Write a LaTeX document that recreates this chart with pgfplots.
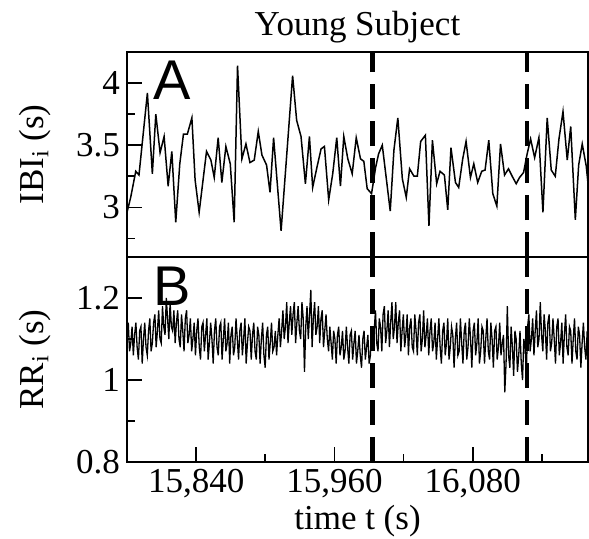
\documentclass[border=0pt]{standalone}
\usepackage{fontspec}
\setmainfont{Liberation Serif}
\newfontfamily\sansf{Liberation Sans}
\usepackage{pgfplots}
\pgfplotsset{compat=1.18}
\usetikzlibrary{calc}

\newcommand{\bigfont}{\fontsize{17.5}{20}\selectfont}
\pgfplotsset{
  panel/.style={
    scale only axis, width=230.5pt, height=102.5pt,
    xmin=15780, xmax=16180, scaled x ticks=false,
    axis line style={line width=0.9pt},
    tick align=inside, ytick pos=left,
    major tick length=7.5pt, minor tick length=4pt,
    every tick/.style={black, line width=0.8pt},
    tick label style={font=\bigfont},
    label style={font=\bigfont},
    /pgf/number format/assume math mode=true,
    ylabel style={at={(axis description cs:-0.2,0.5)}, anchor=center},
  },
  vline/.style={black, line width=2.4pt, dash pattern=on 12.5pt off 6pt},
}

\begin{document}
\begin{tikzpicture}
\begin{axis}[panel, name=top,
    ymin=2.6, ymax=4.25, ytick={3,3.5,4}, minor ytick={2.75,3.25,3.75},
    xtick=\empty,
    ylabel={IBI\textsubscript{i} (s)},
    title={Young Subject}, title style={font=\bigfont, yshift=-5pt}]
% interbreath intervals
\addplot[black, line width=0.75pt] coordinates {
(15780.0,2.96) (15783.2,3.08) (15787.6,3.29) (15790.4,3.26) (15797.7,3.92)
(15802.0,3.27) (15805.0,3.75) (15808.7,3.44) (15812.2,3.57) (15815.7,3.17)
(15818.9,3.45) (15822.3,2.88) (15825.8,3.35) (15829.0,3.59) (15832.4,3.59)
(15836.3,3.72) (15839.1,3.22) (15842.6,2.96) (15849.0,3.45) (15852.8,3.38)
(15855.7,3.24) (15859.1,3.56) (15862.3,3.20) (15865.8,3.49) (15869.6,3.35)
(15873.0,2.88) (15875.9,4.14) (15879.7,3.39) (15883.2,3.51) (15886.7,3.36)
(15890.4,3.38) (15893.9,3.61) (15897.1,3.42) (15901.1,3.34) (15904.1,3.12)
(15907.2,3.56) (15913.7,2.81) (15923.7,4.06) (15927.2,3.70) (15931.0,3.57)
(15934.8,3.19) (15938.3,3.57) (15941.1,3.16) (15945.0,3.33) (15948.4,3.47)
(15951.3,3.49) (15955.0,3.06) (15958.5,3.27) (15962.0,3.56) (15965.2,3.17)
(15968.1,3.57) (15971.6,3.39) (15975.4,3.27) (15978.9,3.56) (15982.6,3.39)
(15985.5,3.37) (15988.4,3.15) (15992.2,3.11) (15995.7,3.32) (15998.3,3.43)
(16001.5,3.50) (16008.4,2.97) (16011.6,3.46) (16015.0,3.72) (16018.9,3.23)
(16022.3,3.08) (16025.2,3.31) (16029.0,3.25) (16031.9,3.25) (16034.8,3.53)
(16038.9,3.58) (16042.0,2.85) (16045.0,3.54) (16048.7,3.19) (16051.6,3.29)
(16055.4,3.26) (16058.3,2.98) (16061.1,3.48) (16065.0,3.20) (16067.8,3.16)
(16071.3,3.39) (16074.2,3.53) (16078.0,3.24) (16080.9,3.35) (16084.3,3.20)
(16087.8,3.29) (16090.7,3.30) (16093.9,3.54) (16097.4,3.11) (16100.9,3.01)
(16104.1,3.51) (16107.6,3.26) (16111.0,3.31) (16114.2,3.25) (16117.7,3.19)
(16120.6,3.24) (16124.1,3.28) (16127.2,3.43) (16130.2,3.55) (16133.7,3.40)
(16137.4,3.56) (16140.9,2.96) (16144.6,3.72) (16148.1,3.30) (16151.6,3.25)
(16154.8,3.55) (16158.3,3.77) (16162.0,3.38) (16165.0,3.65) (16169.0,2.90)
(16171.9,3.34) (16175.0,3.51) (16178.5,3.33) (16180.9,3.11)
};
\addplot[vline] coordinates {(15993,2.6) (15993,4.25)};
\addplot[vline] coordinates {(16127,2.6) (16127,4.25)};
\node[font=\sansf\fontsize{28}{30}\selectfont] at (rel axis cs:0.098,0.863) {A};
\end{axis}

\begin{axis}[panel, name=bot, at={(top.south west)}, anchor=north west,
    ymin=0.8, ymax=1.3, ytick={0.8,1,1.2}, minor ytick={0.9,1.1},
    xtick={15840,15960,16080}, xticklabels={{15,840},{15,960},{16,080}},
    minor xtick={15900,16020,16140}, xtick pos=bottom,
    ylabel={RR\textsubscript{i} (s)}, xlabel={time t (s)},
    xlabel style={yshift=3pt}]
% heartbeat intervals
\addplot[black, line width=0.65pt] coordinates {
(15780.0,1.12) (15781.1,1.14) (15782.2,1.07) (15783.3,1.09) (15784.4,1.13) (15785.5,1.06) (15786.6,1.11) (15787.7,1.14) (15788.8,1.08) (15789.9,1.05)
(15791.0,1.12) (15792.1,1.13) (15793.2,1.04) (15794.3,1.10) (15795.4,1.14) (15796.5,1.08) (15797.6,1.06) (15798.7,1.12) (15799.8,1.15) (15800.9,1.07)
(15802.0,1.09) (15803.1,1.14) (15804.2,1.16) (15805.3,1.08) (15806.4,1.12) (15807.5,1.17) (15808.6,1.10) (15809.7,1.09) (15810.8,1.18) (15811.9,1.13)
(15813.0,1.11) (15814.1,1.20) (15815.2,1.15) (15816.3,1.10) (15817.4,1.19) (15818.5,1.13) (15819.6,1.12) (15820.7,1.17) (15821.8,1.09) (15822.9,1.14)
(15824.0,1.17) (15825.1,1.10) (15826.2,1.08) (15827.3,1.16) (15828.4,1.12) (15829.5,1.07) (15830.6,1.15) (15831.7,1.17) (15832.8,1.09) (15833.9,1.11)
(15835.0,1.15) (15836.1,1.07) (15837.2,1.10) (15838.3,1.14) (15839.4,1.06) (15840.5,1.12) (15841.6,1.15) (15842.7,1.08) (15843.8,1.05) (15844.9,1.13)
(15846.0,1.14) (15847.1,1.07) (15848.2,1.11) (15849.3,1.15) (15850.4,1.05) (15851.5,1.09) (15852.6,1.14) (15853.7,1.10) (15854.8,1.04) (15855.9,1.12)
(15857.0,1.15) (15858.1,1.08) (15859.2,1.06) (15860.3,1.13) (15861.4,1.14) (15862.5,1.05) (15863.6,1.10) (15864.7,1.15) (15865.8,1.07) (15866.9,1.09)
(15868.0,1.14) (15869.1,1.04) (15870.2,1.11) (15871.3,1.13) (15872.4,1.06) (15873.5,1.08) (15874.6,1.15) (15875.7,1.10) (15876.8,1.05) (15877.9,1.12)
(15879.0,1.14) (15880.1,1.06) (15881.2,1.10) (15882.3,1.15) (15883.4,1.04) (15884.5,1.09) (15885.6,1.13) (15886.7,1.12) (15887.8,1.05) (15888.9,1.11)
(15890.0,1.14) (15891.1,1.07) (15892.2,1.05) (15893.3,1.13) (15894.4,1.11) (15895.5,1.04) (15896.6,1.10) (15897.7,1.14) (15898.8,1.06) (15899.9,1.03)
(15901.0,1.11) (15902.1,1.13) (15903.2,1.05) (15904.3,1.09) (15905.4,1.14) (15906.5,1.07) (15907.6,1.08) (15908.7,1.12) (15909.8,1.06) (15910.9,1.11)
(15912.0,1.15) (15913.1,1.08) (15914.2,1.12) (15915.3,1.17) (15916.4,1.10) (15917.5,1.13) (15918.6,1.19) (15919.7,1.09) (15920.8,1.14) (15921.9,1.18)
(15923.0,1.11) (15924.1,1.16) (15925.2,1.19) (15926.3,1.09) (15927.4,1.14) (15928.5,1.18) (15929.6,1.12) (15930.7,1.10) (15931.8,1.19) (15932.9,1.15)
(15934.0,1.02) (15935.1,1.13) (15936.2,1.18) (15937.3,1.10) (15938.4,1.16) (15939.5,1.22) (15940.6,1.08) (15941.7,1.15) (15942.8,1.19) (15943.9,1.11)
(15945.0,1.13) (15946.1,1.18) (15947.2,1.09) (15948.3,1.15) (15949.4,1.17) (15950.5,1.08) (15951.6,1.12) (15952.7,1.16) (15953.8,1.10) (15954.9,1.07)
(15956.0,1.13) (15957.1,1.09) (15958.2,1.05) (15959.3,1.12) (15960.4,1.10) (15961.5,1.04) (15962.6,1.11) (15963.7,1.13) (15964.8,1.06) (15965.9,1.08)
(15967.0,1.12) (15968.1,1.05) (15969.2,1.07) (15970.3,1.13) (15971.4,1.08) (15972.5,1.04) (15973.6,1.11) (15974.7,1.12) (15975.8,1.05) (15976.9,1.09)
(15978.0,1.12) (15979.1,1.04) (15980.2,1.07) (15981.3,1.11) (15982.4,1.06) (15983.5,1.03) (15984.6,1.10) (15985.7,1.12) (15986.8,1.05) (15987.9,1.08)
(15989.0,1.11) (15990.1,1.04) (15991.2,1.06) (15992.3,1.13) (15993.4,1.08) (15994.5,1.12) (15995.6,1.17) (15996.7,1.09) (15997.8,1.07) (15998.9,1.15)
(16000.0,1.13) (16001.1,1.07) (16002.2,1.16) (16003.3,1.18) (16004.4,1.09) (16005.5,1.12) (16006.6,1.17) (16007.7,1.08) (16008.8,1.14) (16009.9,1.19)
(16011.0,1.10) (16012.1,1.13) (16013.2,1.19) (16014.3,1.09) (16015.4,1.14) (16016.5,1.17) (16017.6,1.07) (16018.7,1.12) (16019.8,1.16) (16020.9,1.08)
(16022.0,1.11) (16023.1,1.16) (16024.2,1.06) (16025.3,1.13) (16026.4,1.15) (16027.5,1.08) (16028.6,1.07) (16029.7,1.16) (16030.8,1.12) (16031.9,1.06)
(16033.0,1.14) (16034.1,1.16) (16035.2,1.07) (16036.3,1.10) (16037.4,1.17) (16038.5,1.08) (16039.6,1.11) (16040.7,1.15) (16041.8,1.06) (16042.9,1.12)
(16044.0,1.15) (16045.1,1.07) (16046.2,1.09) (16047.3,1.14) (16048.4,1.05) (16049.5,1.10) (16050.6,1.15) (16051.7,1.08) (16052.8,1.04) (16053.9,1.12)
(16055.0,1.14) (16056.1,1.06) (16057.2,1.09) (16058.3,1.15) (16059.4,1.05) (16060.5,1.08) (16061.6,1.13) (16062.7,1.11) (16063.8,1.03) (16064.9,1.10)
(16066.0,1.14) (16067.1,1.06) (16068.2,1.07) (16069.3,1.15) (16070.4,1.09) (16071.5,1.04) (16072.6,1.12) (16073.7,1.14) (16074.8,1.05) (16075.9,1.08)
(16077.0,1.15) (16078.1,1.10) (16079.2,1.03) (16080.3,1.12) (16081.4,1.14) (16082.5,1.06) (16083.6,1.09) (16084.7,1.15) (16085.8,1.04) (16086.9,1.07)
(16088.0,1.13) (16089.1,1.12) (16090.2,1.04) (16091.3,1.10) (16092.4,1.15) (16093.5,1.07) (16094.6,1.05) (16095.7,1.14) (16096.8,1.10) (16097.9,1.03)
(16099.0,1.12) (16100.1,1.13) (16101.2,1.05) (16102.3,1.08) (16103.4,1.14) (16104.5,1.06) (16105.6,1.09) (16106.7,1.11) (16107.8,0.97) (16108.9,1.04)
(16110.0,1.18) (16111.1,1.06) (16112.2,1.03) (16113.3,1.13) (16114.4,1.08) (16115.5,1.01) (16116.6,1.12) (16117.7,1.10) (16118.8,1.02) (16119.9,1.06)
(16121.0,1.12) (16122.1,1.04) (16123.2,1.00) (16124.3,1.10) (16125.4,1.08) (16126.5,1.02) (16127.6,1.13) (16128.7,1.16) (16129.8,1.07) (16130.9,1.10)
(16132.0,1.15) (16133.1,1.06) (16134.2,1.12) (16135.3,1.17) (16136.4,1.08) (16137.5,1.10) (16138.6,1.19) (16139.7,1.11) (16140.8,1.07) (16141.9,1.16)
(16143.0,1.12) (16144.1,1.05) (16145.2,1.14) (16146.3,1.16) (16147.4,1.07) (16148.5,1.09) (16149.6,1.15) (16150.7,1.10) (16151.8,1.04) (16152.9,1.13)
(16154.0,1.15) (16155.1,1.06) (16156.2,1.09) (16157.3,1.14) (16158.4,1.04) (16159.5,1.11) (16160.6,1.16) (16161.7,1.08) (16162.8,1.06) (16163.9,1.13)
(16165.0,1.12) (16166.1,1.04) (16167.2,1.10) (16168.3,1.15) (16169.4,1.07) (16170.5,1.05) (16171.6,1.13) (16172.7,1.11) (16173.8,1.03) (16174.9,1.09)
(16176.0,1.14) (16177.1,1.08) (16178.2,1.05) (16179.3,1.12) (16180.4,1.10)
};
\addplot[vline] coordinates {(15993,0.8) (15993,1.3)};
\addplot[vline] coordinates {(16127,0.8) (16127,1.3)};
\node[font=\sansf\fontsize{28}{30}\selectfont] at (rel axis cs:0.098,0.859) {B};
\end{axis}
\pgfresetboundingbox
\path[use as bounding box] ($(top.north west)+(-63.5pt,26pt)$) rectangle ($(bot.south east)+(0.5pt,-38.5pt)$);
\end{tikzpicture}
\end{document}
